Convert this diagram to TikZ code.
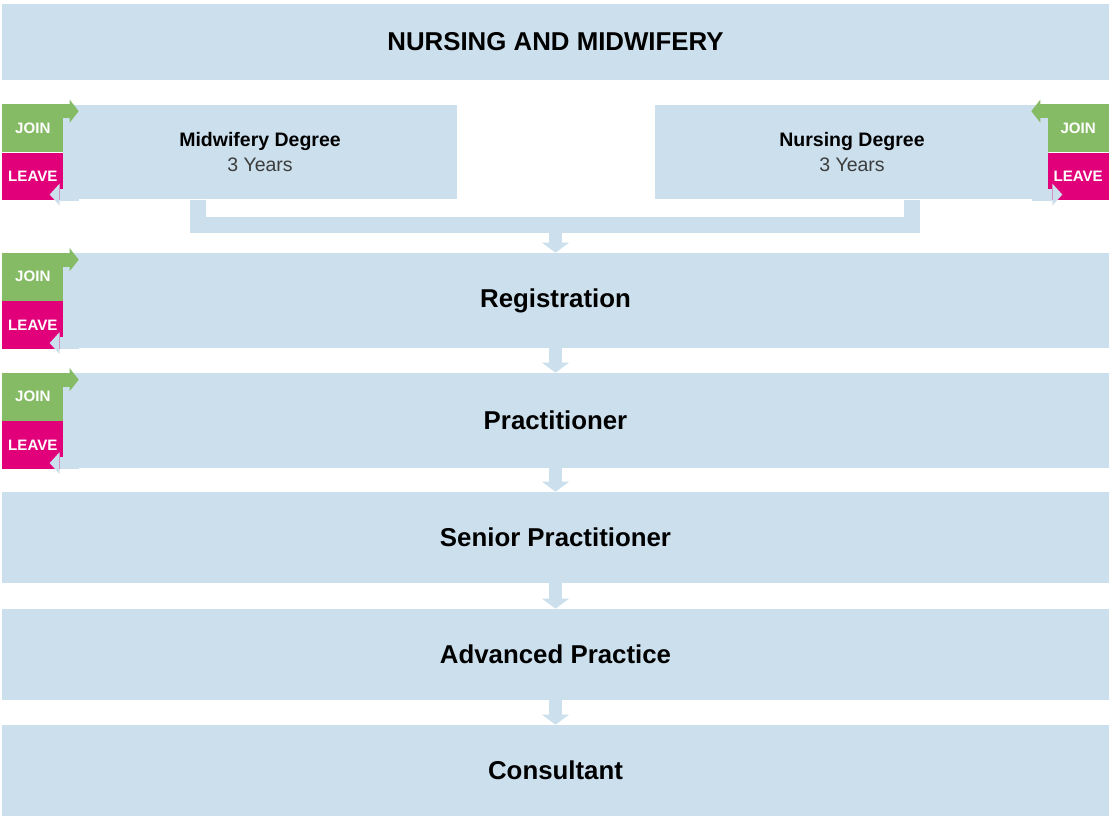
\documentclass[tikz,border=0pt]{standalone}
\usepackage{fontspec}
\setmainfont{Liberation Sans}
\usepackage{tikz}
\usetikzlibrary{arrows.meta}
\definecolor{paleblue}{RGB}{203,223,237}
\definecolor{joingreen}{RGB}{134,187,101}
\definecolor{leavepink}{RGB}{226,0,122}
\definecolor{subgray}{RGB}{60,60,60}

\begin{document}
\begin{tikzpicture}[x = 0.02cm, y = -0.02cm,
	row/.style = {fill = paleblue, inner sep = 0pt, minimum width = 22.14cm, font = \fontsize{14.7}{17}\selectfont\bfseries},
	degree/.style = {fill = paleblue, inner sep = 0pt, minimum width = 7.88cm, minimum height = 1.9cm, align = center, font = \fontsize{11.1}{14.2}\selectfont},
	tab/.style = {inner sep = 0pt, minimum width = 1.22cm, minimum height = 0.95cm, text = white, font = \fontsize{8.6}{10}\selectfont\bfseries},
	flow/.style = {paleblue, line width = 0.26cm, -{Triangle[width = 0.54cm, length = 0.2cm, line width = 0pt]}},
	joinarrow/.style = {joingreen, line width = 0.28cm, -{Triangle[width = 0.46cm, length = 0.18cm, line width = 0pt]}},
	leavearrow/.style = {paleblue, line width = 0.24cm, -{Triangle[width = 0.44cm, length = 0.2cm, line width = 0pt]}},
	bracket/.style = {paleblue, line width = 0.32cm, line join = miter}]
	\useasboundingbox (0, 0) rectangle (1109, 816);
	\coordinate (leftedge) at (2, 0);
	\coordinate (rightedge) at (1109, 0);
	\coordinate (joinL) at (198, 225);
	\coordinate (joinR) at (912, 225);
	\coordinate (merge) at (555.5, 233);

	\node[row, minimum height = 1.52cm] (title) at (555.5, 42) {NURSING AND MIDWIFERY};
	\node[degree] (mid) at (260, 152) {{\bfseries Midwifery Degree}\\{\color{subgray}3 Years}};
	\node[degree] (nurs) at (852, 152) {{\bfseries Nursing Degree}\\{\color{subgray}3 Years}};
	\node[row, minimum height = 1.9cm] (reg) at (555.5, 300.5) {Registration};
	\node[row, minimum height = 1.9cm] (prac) at (555.5, 420.5) {Practitioner};
	\node[row, minimum height = 1.82cm] (senior) at (555.5, 537.5) {Senior Practitioner};
	\node[row, minimum height = 1.82cm] (adv) at (555.5, 654.5) {Advanced Practice};
	\node[row, minimum height = 1.82cm] (cons) at (555.5, 770.5) {Consultant};

	\draw[bracket] (mid.south -| joinL) -- (joinL) -- (joinR) -- (nurs.south -| joinR);
	\draw[flow] (merge) -- (reg.north);
	\foreach \a/\b in {reg/prac, prac/senior, senior/adv, adv/cons}
		\draw[flow] (\a.south) -- (\b.north);

	\foreach \stage in {mid, reg, prac} {
		\node[tab, fill = joingreen, anchor = north west] (join\stage) at (leftedge |- \stage.north) {JOIN};
		\node[tab, fill = leavepink, anchor = north] (leave\stage) at (join\stage.south) {LEAVE};
		\draw[joinarrow] ([yshift = -0.14cm]join\stage.north west) -- ([xshift = 0.3cm, yshift = -0.14cm]join\stage.north east);
		\draw[leavearrow] ([xshift = 0.3cm, yshift = 0.12cm]leave\stage.south east) -- ([xshift = -0.28cm, yshift = 0.12cm]leave\stage.south east);
	}
	\node[tab, fill = joingreen, anchor = north east] (joinnurs) at (rightedge |- nurs.north) {JOIN};
	\node[tab, fill = leavepink, anchor = north] (leavenurs) at (joinnurs.south) {LEAVE};
	\draw[joinarrow] ([yshift = -0.14cm]joinnurs.north east) -- ([xshift = -0.32cm, yshift = -0.14cm]joinnurs.north west);
	\draw[leavearrow] ([xshift = -0.3cm, yshift = 0.12cm]leavenurs.south west) -- ([xshift = 0.3cm, yshift = 0.12cm]leavenurs.south west);
\end{tikzpicture}
\end{document}
